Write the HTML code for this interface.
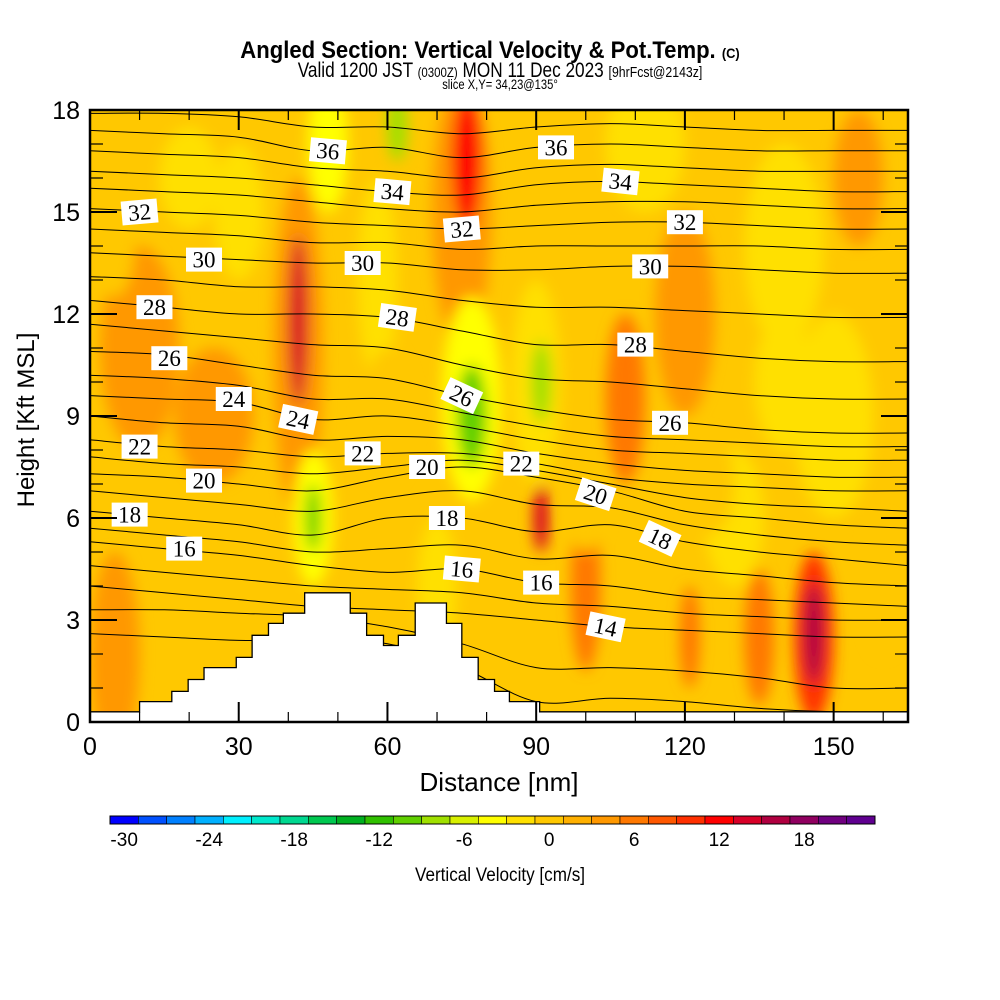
<!DOCTYPE html>
<html><head><meta charset="utf-8"><style>
body{margin:0;background:#fff;}
svg{display:block;font-family:"Liberation Sans",sans-serif;}
</style></head><body>
<svg id="chart" width="1000" height="1000" viewBox="0 0 1000 1000">
<defs>
<clipPath id="pc"><rect x="90" y="110" width="818" height="612"/></clipPath>
<filter id="bl" x="-50%" y="-50%" width="200%" height="200%"><feGaussianBlur stdDeviation="7"/></filter>
</defs>
<g>
<text x="490" y="58" text-anchor="middle" font-size="24" font-weight="bold" transform="translate(490 0) scale(0.92 1) translate(-490 0)">Angled Section: Vertical Velocity &amp; Pot.Temp. <tspan font-size="14">(C)</tspan></text>
<text x="500" y="77" text-anchor="middle" font-size="21" transform="translate(500 0) scale(0.82 1) translate(-500 0)">Valid 1200 JST <tspan font-size="14">(0300Z)</tspan> MON 11 Dec 2023 <tspan font-size="15">[9hrFcst@2143z]</tspan></text>
<text x="500" y="89" text-anchor="middle" font-size="14" transform="translate(500 0) scale(0.8 1) translate(-500 0)">slice X,Y= 34,23@135°</text>
</g>
<g clip-path="url(#pc)">
<rect x="90" y="110" width="818" height="612" fill="#ffc800"/>
<g id="field" filter="url(#bl)"></g>
<g id="contours"></g>
<path id="terrain" fill="#fff" stroke="#000" stroke-width="1.3"/>
</g>
<g id="clabels"></g>
<rect x="90" y="110" width="818" height="612" fill="none" stroke="#000" stroke-width="2.5"/>
<g id="axes"></g>
<text x="0" y="0" transform="translate(34 420) rotate(-90)" text-anchor="middle" font-size="24">Height [Kft MSL]</text>
<text x="499" y="791" text-anchor="middle" font-size="26">Distance [nm]</text>
<g id="cbar"></g>
<text x="500" y="881" text-anchor="middle" font-size="19" transform="translate(500 0) scale(0.9 1) translate(-500 0)">Vertical Velocity [cm/s]</text>
</svg>
<script>
const NS="http://www.w3.org/2000/svg";
// ---- data ----
const xNodes=[0,15,30,45,60,75,90,105,120,135,150,165];
const thetaLevels=[10,12,14,15,16,17,18,19,20,21,22,23,24,25,26,27,28,29,30,31,32,33,34,35,36,37];
const thetaHeights=[
[2.6,2.5,2.4,2.4,2.3,1.6,0.6,0.7,0.6,0.4,0.3,0.3],
[3.3,3.3,3.2,3.1,2.8,2.3,1.6,1.6,1.5,1.3,1.0,1.0],
[4.0,3.8,3.6,3.4,3.3,3.2,3.0,2.8,2.7,2.6,2.5,2.5],
[4.6,4.4,4.2,4.0,3.9,3.8,3.5,3.4,3.2,3.1,3.0,3.0],
[5.3,5.1,4.9,4.6,4.4,4.5,4.1,4.0,3.7,3.6,3.5,3.4],
[5.7,5.5,5.3,5.0,5.1,5.2,4.8,4.9,4.5,4.3,4.1,4.0],
[6.2,6.0,5.8,5.5,6.0,6.0,5.6,5.8,5.3,5.0,4.8,4.6],
[6.8,6.6,6.4,6.2,6.6,6.8,6.4,6.3,5.8,5.5,5.3,5.2],
[7.3,7.2,7.0,6.8,7.2,7.5,7.2,6.8,6.2,6.0,5.8,5.7],
[7.8,7.6,7.5,7.3,7.5,7.7,7.4,7.0,6.6,6.4,6.3,6.2],
[8.3,8.1,8.0,7.8,7.9,7.9,7.6,7.2,7.0,6.9,6.8,6.8],
[9.0,8.8,8.7,8.3,8.4,8.3,7.9,7.6,7.4,7.3,7.2,7.2],
[9.6,9.5,9.4,8.9,9.0,8.7,8.3,8.0,7.9,7.8,7.7,7.7],
[10.2,10.1,9.9,9.5,9.5,9.1,8.7,8.4,8.3,8.2,8.1,8.1],
[10.9,10.8,10.5,10.2,10.1,9.6,9.2,8.9,8.8,8.6,8.5,8.5],
[11.7,11.5,11.3,11.1,11.0,10.5,10.1,10.0,9.8,9.6,9.5,9.5],
[12.4,12.2,12.0,12.0,11.9,11.5,11.1,11.1,10.9,10.7,10.6,10.6],
[13.1,13.0,12.8,12.8,12.7,12.4,12.2,12.2,12.1,12.0,11.9,11.9],
[13.8,13.7,13.6,13.5,13.5,13.3,13.3,13.4,13.4,13.3,13.2,13.2],
[14.5,14.4,14.3,14.1,14.1,13.9,14.0,14.0,14.0,14.0,13.9,13.9],
[15.1,15.0,14.9,14.7,14.6,14.5,14.6,14.7,14.7,14.6,14.5,14.5],
[15.7,15.6,15.5,15.3,15.1,15.0,15.2,15.3,15.3,15.2,15.1,15.1],
[16.2,16.1,16.0,15.8,15.6,15.5,15.8,15.9,15.8,15.7,15.6,15.6],
[16.8,16.7,16.6,16.3,16.2,16.0,16.3,16.4,16.3,16.2,16.2,16.2],
[17.4,17.3,17.2,16.8,16.9,16.6,16.9,17.0,16.9,16.8,16.8,16.8],
[17.9,17.9,17.8,17.5,17.5,17.3,17.5,17.6,17.5,17.4,17.4,17.4]];
const labelText=["36","36","34","34","32","32","32","30","30","30","28","28","28","26","26","26","24","24","22","22","22","20","20","20","18","18","18","16","16","16","14"];
const labelX=[48,94,61,107,10,75,120,23,55,113,13,62,110,16,75,117,29,42,10,55,87,23,68,102,8,72,115,19,75,91,104];
const labelY=[16.8,16.9,15.6,15.9,15.0,14.5,14.7,13.6,13.5,13.4,12.2,11.9,11.1,10.7,9.6,8.8,9.5,8.9,8.1,7.9,7.6,7.1,7.5,6.7,6.1,6.0,5.4,5.1,4.5,4.1,2.8];
const labelAngle=[5,0,5,6,-5,-5,0,0,0,0,0,8,0,0,25,0,0,12,0,0,0,0,0,18,0,0,25,0,5,0,12];
// velocity blobs: center distance, height, value (cm/s), spread distance, spread height
const blobX=[10,25,42,75,120,150,140,5,58,70,77,90,42,76,45,48,62,112,100,108,121,135,146,146,77,91,45,91,155,30,130,20,5,60,140,160,100,125];
const blobY=[11,9,11,15,12,9,14,2,13,4,9.5,10,11.8,16.5,6,17,17.5,17,4,9.5,2.5,2.5,2.5,2.6,9,10,6,6,16,15,6,16,14,9,10,4,6.5,7];
const blobV=[4,4,4,4,4,-2,-2,4,-3,-3,-4,-3,13,12,-4,-4,-8,-3,5,5,6,6,9,16,-10,-8,-10,13,4,-2,-2,-2,-1,-1,-2,-1,-1,-1];
const blobSX=[8,8,5,6,6,8,8,5,4,4,6,5,2,3,4,4,2,8,3,4,2,3,4,2,3,2,1.5,1.5,5,5,6,6,4,5,6,4,4,5];
const blobSY=[3,2,5,4,3,3,3,3,3,2,3,3,2.5,2,2,2,1,2,2.5,2.5,1.5,2,2.5,1.5,1.5,1.2,1,1,2,2,2,1.5,1.5,2,2,2,1.5,1.5];
const terrainX=[0,10,10,16.5,16.5,19.8,19.8,23,23,29.5,29.5,32.7,32.7,36,36,39,39,43.3,43.3,52.5,52.5,55.8,55.8,59.2,59.2,62.2,62.2,65.6,65.6,71.9,71.9,75,75,78.3,78.3,81.6,81.6,84.6,84.6,90.7,90.7,165];
const terrainY=[0.3,0.3,0.6,0.6,0.9,0.9,1.25,1.25,1.6,1.6,1.9,1.9,2.55,2.55,2.9,2.9,3.2,3.2,3.8,3.8,3.2,3.2,2.55,2.55,2.25,2.25,2.55,2.55,3.5,3.5,2.9,2.9,1.9,1.9,1.25,1.25,0.9,0.9,0.6,0.6,0.3,0.3];
const cbarValues=[-30,-28,-26,-24,-22,-20,-18,-16,-14,-12,-10,-8,-6,-4,-2,0,2,4,6,8,10,12,14,16,18,20,22];
const cbarColors=["#0000ff","#0050ff","#0080ff","#00b0ff","#00f0ff","#00e8cc","#00d890","#00c850","#00b020","#30c000","#60d000","#a0e000","#d8f000","#ffff00","#ffe000","#ffc800","#ffb000","#ff9800","#ff7800","#ff5800","#ff3000","#ff0000","#d80028","#b00040","#900060","#700080","#600090"];
const xTicks=[0,30,60,90,120,150];
const yTicks=[0,3,6,9,12,15,18];
// ---- scales ----
const X=d=>90+d*(818/165), Y=h=>722-h*34;
function colorFor(v){let i=0;for(let k=0;k<cbarValues.length;k++){if(v>=cbarValues[k]-1)i=k;}return cbarColors[i];}
function mk(tag,attrs,parent){const e=document.createElementNS(NS,tag);for(const k in attrs)e.setAttribute(k,attrs[k]);parent.appendChild(e);return e;}
// field
const field=document.getElementById('field');
blobX.forEach((bx,i)=>{
 const e=mk('ellipse',{cx:X(bx),cy:Y(blobY[i]),rx:blobSX[i]*4.95,ry:blobSY[i]*34,fill:colorFor(blobV[i])},field);
 
 
});
// contours
const cg=document.getElementById('contours');
thetaHeights.forEach((hs,li)=>{
 const pts=hs.map((h,i)=>[X(xNodes[i]),Y(h)]);
 let d='M'+pts[0][0]+','+pts[0][1];
 for(let i=0;i<pts.length-1;i++){
  const p0=pts[Math.max(0,i-1)],p1=pts[i],p2=pts[i+1],p3=pts[Math.min(pts.length-1,i+2)];
  const c1=[p1[0]+(p2[0]-p0[0])/6,p1[1]+(p2[1]-p0[1])/6],c2=[p2[0]-(p3[0]-p1[0])/6,p2[1]-(p3[1]-p1[1])/6];
  d+=' C'+c1[0]+','+c1[1]+' '+c2[0]+','+c2[1]+' '+p2[0]+','+p2[1];
 }
 const p=mk('path',{d:d,fill:'none',stroke:'#000','stroke-width':1},cg);
 
 
});
// terrain
let td='M'+X(terrainX[0])+','+Y(terrainY[0]);
for(let i=1;i<terrainX.length;i++)td+=' L'+X(terrainX[i])+','+Y(terrainY[i]);
td+=' L'+X(165)+',730 L'+X(0)+',730 Z';
document.getElementById('terrain').setAttribute('d',td);
// contour labels
const lg=document.getElementById('clabels');
labelText.forEach((t,i)=>{
 const g=mk('g',{transform:'translate('+X(labelX[i])+' '+Y(labelY[i])+') rotate('+labelAngle[i]+')'},lg);
 
 
 mk('rect',{x:-18,y:-12,width:36,height:24,fill:'#fff'},g);
 const tx=mk('text',{x:0,y:8,'text-anchor':'middle','font-size':23,'font-family':'Liberation Serif, serif'},g);
 tx.textContent=t;
});
// axes ticks
const ag=document.getElementById('axes');
for(let d=0;d<=165;d+=10){
 const maj=d%30===0, L=maj?20:10;
 mk('line',{x1:X(d),x2:X(d),y1:722,y2:722-L,stroke:'#000','stroke-width':maj?2:1.2},ag);
 mk('line',{x1:X(d),x2:X(d),y1:110,y2:110+L,stroke:'#000','stroke-width':maj?2:1.2},ag);
}
for(let h=0;h<=18;h++){
 const maj=h%3===0, L=maj?27:13;
 mk('line',{x1:90,x2:90+L,y1:Y(h),y2:Y(h),stroke:'#000','stroke-width':maj?2:1.2},ag);
 mk('line',{x1:908,x2:908-L,y1:Y(h),y2:Y(h),stroke:'#000','stroke-width':maj?2:1.2},ag);
}
xTicks.forEach(d=>{
 const t=mk('text',{x:X(d),y:755,'text-anchor':'middle','font-size':25},ag);
 t.textContent=d;
 
 
});
yTicks.forEach(h=>{
 const t=mk('text',{x:80,y:Y(h)+9,'text-anchor':'end','font-size':25},ag);
 t.textContent=h;
 
 
});
// colorbar
const cb=document.getElementById('cbar');
const bw=(875-110)/cbarColors.length;
cbarColors.forEach((c,i)=>{
 const r=mk('rect',{x:110+i*bw,y:816,width:bw,height:8,fill:c,stroke:'#000','stroke-width':0.6},cb);
 
 
});
mk('rect',{x:110,y:816,width:765,height:8,fill:'none',stroke:'#000','stroke-width':1},cb);
cbarValues.forEach((v,i)=>{
 if(v%6!==0)return;
 const t=mk('text',{x:110+(i+0.5)*bw,y:846,'text-anchor':'middle','font-size':19},cb);
 t.textContent=v;
 
 
});
</script>
</body></html>
